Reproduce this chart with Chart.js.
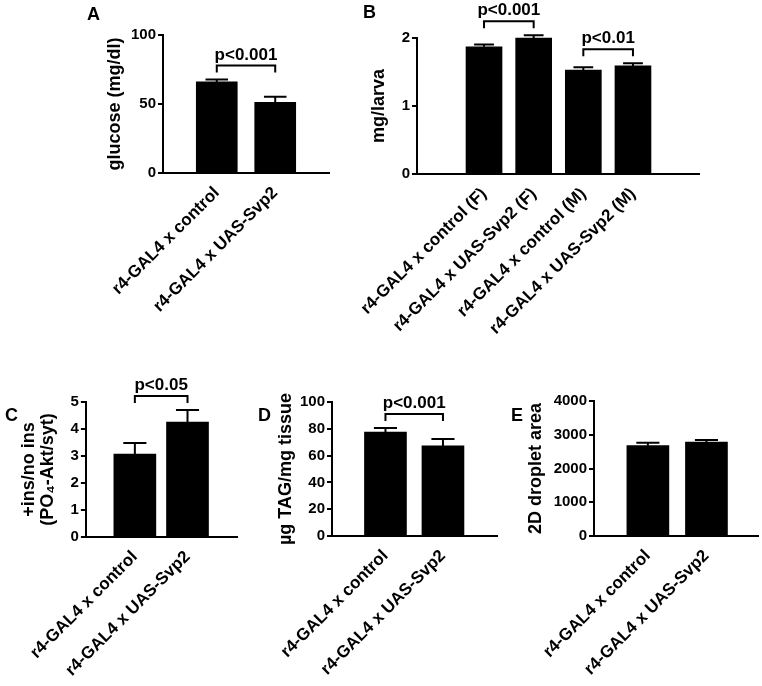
<!DOCTYPE html>
<html><head><meta charset="utf-8">
<script src="https://cdn.jsdelivr.net/npm/chart.js@4.4.0/dist/chart.umd.min.js"></script>
<style>
html,body{margin:0;padding:0;background:#fff;}
#wrap{position:relative;width:762px;height:686px;overflow:hidden;background:#fff;}
canvas{position:absolute;left:0;top:0;}
.pl{position:absolute;font:bold 18px "Liberation Sans",Arial,sans-serif;line-height:18px;color:#000;}
</style></head><body>
<div id="wrap">
<canvas id="cA" width="762" height="686"></canvas>
<canvas id="cB" width="762" height="686"></canvas>
<canvas id="cC" width="762" height="686"></canvas>
<canvas id="cD" width="762" height="686"></canvas>
<canvas id="cE" width="762" height="686"></canvas>
<div class="pl" style="left:87px;top:5px">A</div>
<div class="pl" style="left:363px;top:3px">B</div>
<div class="pl" style="left:5px;top:406px">C</div>
<div class="pl" style="left:258px;top:406px">D</div>
<div class="pl" style="left:511px;top:406px">E</div>
</div>
<script>
// ---- data ----
const catsTwo = ['r4-GAL4 x control', 'r4-GAL4 x UAS-Svp2'];
const catsB = ['r4-GAL4 x control (F)', 'r4-GAL4 x UAS-Svp2 (F)', 'r4-GAL4 x control (M)', 'r4-GAL4 x UAS-Svp2 (M)'];

const glucose = [66, 51.2];
const glucoseErr = [1.7, 4.0];
const sigA = [{a: 0, b: 1, label: 'p<0.001'}];

const massB = [1.87, 2.00, 1.53, 1.59];
const massBErr = [0.035, 0.04, 0.04, 0.04];
const sigB = [{a: 0, b: 1, label: 'p<0.001'}, {a: 2, b: 3, label: 'p<0.01'}];

const aktC = [3.07, 4.26];
const aktCErr = [0.41, 0.44];
const sigC = [{a: 0, b: 1, label: 'p<0.05'}];

const tagD = [77.6, 67.2];
const tagDErr = [3.0, 5.2];
const sigD = [{a: 0, b: 1, label: 'p<0.001'}];

const dropE = [2676, 2785];
const dropEErr = [89, 59];
const sigE = [];

// ---- drawing ----
const FONT = '"Liberation Sans", Arial, Helvetica, sans-serif';

const annot = {
  id: 'annot',
  afterDatasetsDraw(chart, args, opts) {
    const ctx = chart.ctx;
    const xs = chart.scales.x, ys = chart.scales.y;
    const cw = opts.bw * 0.55;
    const tops = [];
    ctx.save();
    ctx.strokeStyle = '#000';
    ctx.fillStyle = '#000';
    ctx.lineWidth = 2;
    opts.values.forEach((v, i) => {
      const x = xs.getPixelForValue(i);
      const y0 = ys.getPixelForValue(v);
      const y1 = ys.getPixelForValue(v + opts.errors[i]);
      tops.push(y1);
      ctx.beginPath();
      ctx.moveTo(x, y0); ctx.lineTo(x, y1);
      ctx.moveTo(x - cw / 2, y1); ctx.lineTo(x + cw / 2, y1);
      ctx.stroke();
    });
    (opts.sig || []).forEach(s => {
      const xa = xs.getPixelForValue(s.a), xb = xs.getPixelForValue(s.b);
      const yb = Math.min(tops[s.a], tops[s.b]) - 14;
      ctx.beginPath();
      ctx.moveTo(xa, yb + 7); ctx.lineTo(xa, yb); ctx.lineTo(xb, yb); ctx.lineTo(xb, yb + 7);
      ctx.stroke();
      ctx.font = 'bold 17px ' + FONT;
      ctx.textAlign = 'center';
      ctx.textBaseline = 'alphabetic';
      ctx.fillText(s.label, (xa + xb) / 2, yb - 6);
    });
    ctx.restore();
  }
};

function makePanel(id, cats, vals, errs, sig, L) {
  new Chart(document.getElementById(id), {
    type: 'bar',
    data: {
      datasets: [{
        data: vals.map((v, i) => ({x: i, y: v})),
        backgroundColor: '#000',
        borderWidth: 0,
        barThickness: L.bw,
        clip: false
      }]
    },
    options: {
      responsive: false,
      animation: false,
      events: [],
      layout: {padding: {left: L.pl, top: L.top, right: 762 - L.right, bottom: 0}},
      plugins: {
        legend: {display: false},
        tooltip: {enabled: false},
        annot: {values: vals, errors: errs, sig: sig, bw: L.bw}
      },
      scales: {
        x: {
          type: 'linear', min: L.xmin, max: L.xmax, offset: false,
          grid: {display: false, drawTicks: false},
          border: {display: true, color: '#000', width: 2},
          afterBuildTicks: s => { s.ticks = cats.map((c, i) => ({value: i})); },
          afterFit: s => { s.height = 686 - L.bottom; },
          ticks: {
            autoSkip: false, minRotation: 45, maxRotation: 45, padding: 10,
            color: '#000', font: {family: FONT, size: 17, weight: 'bold'},
            callback: (v, i) => cats[i]
          }
        },
        y: {
          min: 0, max: L.ymax,
          ticks: {stepSize: L.step, color: '#000', padding: 2, font: {family: FONT, size: 15, weight: 'bold'},
                  callback: v => String(v)},
          grid: {drawOnChartArea: false, drawTicks: true, tickLength: 5, color: '#000', lineWidth: 2},
          border: {display: true, color: '#000', width: 2},
          title: {display: true, text: L.title, color: '#000', padding: 0,
                  font: {family: FONT, size: 18, weight: 'bold', lineHeight: L.lh || 1.2}},
          afterFit: s => { s.width = L.left - L.pl; }
        }
      }
    },
    plugins: [annot]
  });
}

makePanel('cA', catsTwo, glucose, glucoseErr, sigA,
  {pl: 104, left: 163, right: 329, top: 35, bottom: 173, xmin: -0.92, xmax: 1.92, bw: 41, ymax: 100, step: 50, title: 'glucose (mg/dl)'});
makePanel('cB', catsB, massB, massBErr, sigB,
  {pl: 368, left: 417, right: 699, top: 38, bottom: 174, xmin: -1.35, xmax: 4.33, bw: 36, ymax: 2, step: 1, title: 'mg/larva'});
makePanel('cC', catsTwo, aktC, aktCErr, sigC,
  {pl: 6, left: 72, right: 237, top: 402, bottom: 537, xmin: -0.93, xmax: 1.94, bw: 42, ymax: 5, step: 1, lh: 1.05,
   title: ['+ins/no ins', '(PO\u2084-Akt/syt)']});
makePanel('cD', catsTwo, tagD, tagDErr, sigD,
  {pl: 275, left: 332, right: 497, top: 402, bottom: 536, xmin: -0.93, xmax: 1.94, bw: 42, ymax: 100, step: 20, title: '\u00B5g TAG/mg tissue'});
makePanel('cE', catsTwo, dropE, dropEErr, sigE,
  {pl: 525, left: 594, right: 758, top: 401, bottom: 536, xmin: -0.92, xmax: 1.88, bw: 42, ymax: 4000, step: 1000, title: '2D droplet area'});
</script>
</body></html>
